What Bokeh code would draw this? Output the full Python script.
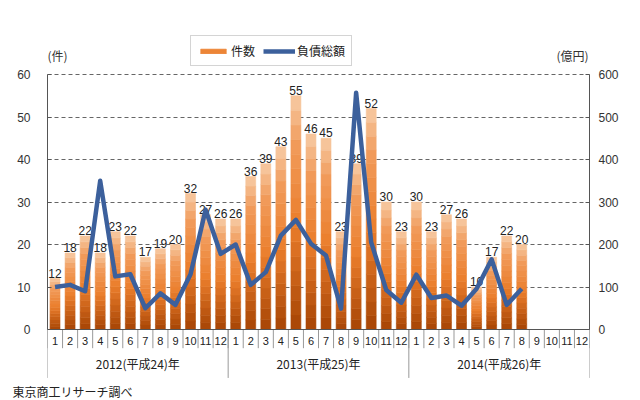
import numpy as np
from bokeh.plotting import figure
from bokeh.models import (Range1d, LinearAxis, FixedTicker, Legend, Title,
                          LegendItem, Span)
from bokeh.core.properties import value
from bokeh.embed import file_html
from bokeh.resources import INLINE

# ---------------- data ----------------
years = ["2012(平成24)年", "2013(平成25)年", "2014(平成26)年"]
months = [str(m) for m in range(1, 13)]
cases = [12, 18, 22, 18, 23, 22, 17, 19, 20, 32, 27, 26,
         26, 36, 39, 43, 55, 46, 45, 23, 39, 52, 30, 23,
         30, 23, 27, 26, 10, 17, 22, 20]
debt = [100, 105, 90, 350, 125, 130, 50, 85, 58, 130, 282, 178,
        200, 105, 135, 221, 258, 202, 174, 49, 557, 205, 93, 63,
        129, 74, 80, 56, 96, 165, 58, 96]
left_ticks = [0, 10, 20, 30, 40, 50, 60]
right_ticks = [0, 100, 200, 300, 400, 500, 600]
left_unit = "(件)"
right_unit = "(億円)"
legend_labels = ["件数", "負債総額"]
source_note = "東京商工リサーチ調べ"

NUM = "Liberation Sans"
JP = "Noto Sans CJK JP"

n_slots = len(years) * 12
xs = np.arange(1, len(cases) + 1)

ML, MR, MB = 47, 51, 20
FW, FH = 542, 380
px_per_unit = 4.25
top_px = 74.0   # px of value 60 from frame top
y_end = 60 + top_px / px_per_unit
y_start = y_end - FH / px_per_unit

p = figure(frame_width=FW, frame_height=FH, output_backend="svg",
           toolbar_location=None,
           x_range=Range1d(0.5, n_slots + 0.5), y_range=Range1d(y_start, y_end),
           x_axis_type=None, min_border_left=ML, min_border_right=MR,
           min_border_top=0, min_border_bottom=MB)
p.outline_line_color = None
p.background_fill_color = "white"
p.border_fill_color = "white"
p.extra_y_ranges = {"debt": Range1d(y_start * 10, y_end * 10)}

# axes
ax = p.yaxis[0]
ax.bounds = (0, 60)
ax.ticker = FixedTicker(ticks=left_ticks)
rax = LinearAxis(y_range_name="debt", bounds=(0, 600),
                 ticker=FixedTicker(ticks=right_ticks))
p.add_layout(rax, "right")
for a in (ax, rax):
    a.axis_line_color = "#555555"
    a.major_tick_in = 4
    a.major_tick_out = 0
    a.major_tick_line_color = "#555555"
    a.minor_tick_line_color = None
    a.major_label_text_font = NUM
    a.major_label_text_font_size = "12px"
    a.major_label_text_color = "#333333"
ax.major_label_standoff = 17
rax.major_label_standoff = 9

p.xgrid.grid_line_color = None
p.ygrid.grid_line_color = "#666666"
p.ygrid.grid_line_dash = "4 3"
p.ygrid.grid_line_width = 1
p.add_layout(Span(location=0, dimension="width", line_color="#555555", line_width=1))

# gradient bars (bands from dark bottom to light top)
stops = [(0.0, (0xA6, 0x44, 0x04)), (0.45, (0xEB, 0x7E, 0x2C)),
         (0.8, (0xF1, 0x9C, 0x5C)), (1.0, (0xF7, 0xCB, 0xA6))]


def interp(t):
    for (t0, c0), (t1, c1) in zip(stops[:-1], stops[1:]):
        if t <= t1:
            f = (t - t0) / (t1 - t0)
            return "#%02x%02x%02x" % tuple(int(round(a + (b - a) * f)) for a, b in zip(c0, c1))
    return "#%02x%02x%02x" % stops[-1][1]


nb = 16
vals = np.array(cases, dtype=float)
bar_rend = None
for i in range(nb):
    col = interp((i + 0.5) / nb)
    r = p.vbar(x=xs, bottom=vals * i / nb, top=vals * (i + 1) / nb, width=0.66,
               fill_color=col, line_color=col, line_width=0.6)
    if i == nb // 2:
        bar_rend = r

# bar value labels
p.text(x=xs, y=vals, text=[str(v) for v in cases], text_font=value(NUM),
       text_font_size="12px", text_color="#222222", text_align="center",
       text_baseline="bottom", y_offset=-1)

# debt line
line_rend = p.line(x=xs, y=debt, y_range_name="debt", line_color="#3C609C",
                   line_width=4.5, line_join="round")

# month labels + separators
mx = np.arange(1, n_slots + 1)
p.text(x=mx, y=[-2.6] * n_slots, text=months * len(years), text_font=value(NUM),
       text_font_size="11px", text_color="#222222", text_align="center",
       text_baseline="middle")
bx = np.arange(0.5, n_slots + 1, 1.0)
p.segment(x0=bx, y0=[0] * len(bx), x1=bx, y1=[-4.4] * len(bx),
          line_color="#999999", line_width=1)
yb = np.arange(0.5, n_slots + 1, 12.0)
p.segment(x0=yb, y0=[0] * len(yb), x1=yb, y1=[-11.4] * len(yb),
          line_color="#999999", line_width=1)
p.text(x=np.arange(6.5, n_slots, 12.0), y=[-8.0] * len(years), text=years,
       text_font=value(JP), text_font_size="12px", text_color="#222222",
       text_align="center", text_baseline="middle")

# units
p.text(x=[0.5], y=[64.5], text=[left_unit], text_font=value(JP),
       text_font_size="12px", text_color="#333333", text_align="left",
       text_baseline="middle", x_offset=0)
p.text(x=[n_slots + 0.5], y=[64.5], text=[right_unit], text_font=value(JP),
       text_font_size="12px", text_color="#333333", text_align="right",
       text_baseline="middle", x_offset=-1)

# source note
src = Title(text=source_note, align="left", offset=12 - ML, text_font=JP,
            text_font_size="12px", text_font_style="normal",
            text_color="#222222", standoff=0)
p.add_layout(src, "below")

# legend
leg = Legend(items=[LegendItem(label=legend_labels[0], renderers=[bar_rend]),
                    LegendItem(label=legend_labels[1], renderers=[line_rend])],
             orientation="horizontal", location=(143, FH - 66))
leg.label_text_font = JP
leg.label_text_font_size = "12px"
leg.label_text_color = "#222222"
leg.glyph_width = 32
leg.glyph_height = 6
leg.label_standoff = 2
leg.spacing = 8
leg.padding = 6
leg.margin = 0
leg.border_line_color = "#aaaaaa"
leg.background_fill_color = "white"
leg.background_fill_alpha = 1.0
p.add_layout(leg, "center")

open("out.html", "w").write(file_html(p, INLINE))
